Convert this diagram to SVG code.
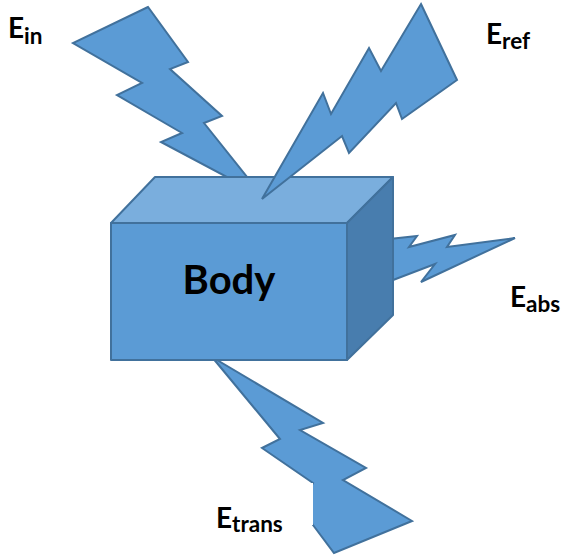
<svg xmlns="http://www.w3.org/2000/svg" width="563" height="555" viewBox="0 0 563 555">
<style>
.bolt{fill:#5B9BD5;stroke:#41719C;stroke-width:2;stroke-linejoin:miter}
.face{stroke:#41719C;stroke-width:2;stroke-linejoin:round}
.lbl{font-family:Lato,"Liberation Sans",sans-serif;font-weight:bold;fill:#000}
.big{font-size:28px}
.sub{font-size:22.5px}
</style>
<rect width="563" height="555" fill="#fff"/>
<g id="connectors">
<polygon id="bolt-in" class="bolt" points="148,7 73,43 142,83 117,95 182,133 161,142 227,177 240,195 247,177 204,123 222,116 170,69 188,62"/>
<polygon id="bolt-abs" class="bolt" points="380,240 417,236 409,247 455,235 447,247 515,238 421,282 435,264 380,285"/>
<polygon id="bolt-trans" class="bolt" points="212,357 280,439 262,448 313,483 300,505 313,525 334,553 412,521 343,480 366,468 300,430 323,423"/>
</g>
<g id="body">
<polygon class="face" fill="#7AAEDD" points="111,223 155,177 393,177 347,223"/>
<polygon class="face" fill="#487DAE" points="347,223 393,177 393,315 347,360"/>
<rect class="face" fill="#5B9BD5" x="111" y="223" width="236" height="137"/>
<text class="lbl" x="229" y="294" font-size="40" text-anchor="middle">Body</text>
</g>
<g id="connectors-front">
<polygon id="bolt-ref" class="bolt" points="421,4 457,80 402,119 396,103 349,153 342,136 262,199 323,93 331,114 369,48 381,71"/>
</g>
<rect x="200" y="483" width="113" height="42" fill="#fff"/>
<g id="label-in"><text class="lbl" x="8" y="38"><tspan class="big">E</tspan><tspan class="sub" dy="6">in</tspan></text></g>
<g id="label-ref"><text class="lbl" x="486" y="44"><tspan class="big">E</tspan><tspan class="sub" dy="5">ref</tspan></text></g>
<g id="label-abs"><text class="lbl" x="510" y="307"><tspan class="big">E</tspan><tspan class="sub" dy="5">abs</tspan></text></g>
<g id="label-trans"><text class="lbl" x="216" y="528"><tspan class="big">E</tspan><tspan class="sub" dy="4">trans</tspan></text></g>
</svg>
